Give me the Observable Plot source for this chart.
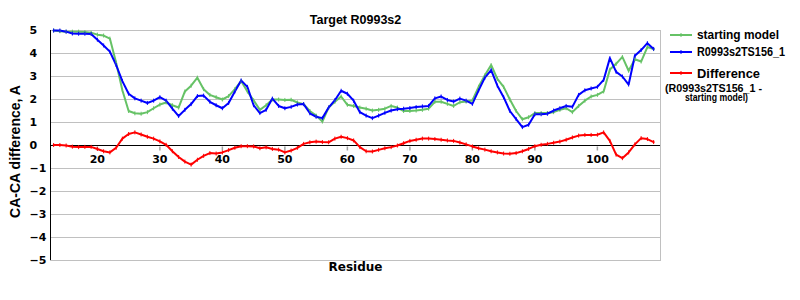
<!DOCTYPE html>
<html><head><meta charset="utf-8">
<script src="https://cdn.jsdelivr.net/npm/d3@7"></script>
<script src="https://cdn.jsdelivr.net/npm/@observablehq/plot@0.6"></script>
<style>
body{margin:0;background:#fff;}
#wrap{position:relative;width:800px;height:300px;overflow:hidden;}
#legend{position:absolute;left:660px;top:20px;}
</style></head><body><div id="wrap"></div>
<script>
const firstResidue = 13;
const startingModel = [5.0,4.97,4.95,4.95,4.95,4.93,4.9,4.82,4.78,4.65,3.6,2.4,1.5,1.4,1.38,1.45,1.62,1.78,1.87,1.75,1.65,2.35,2.6,2.95,2.45,2.2,2.1,2.0,2.15,2.45,2.8,2.35,1.96,1.55,1.75,2.0,2.0,1.98,1.99,1.87,1.8,1.5,1.3,1.04,1.65,1.9,2.13,1.77,1.72,1.65,1.6,1.52,1.55,1.6,1.72,1.65,1.5,1.5,1.52,1.55,1.6,1.9,1.9,1.81,1.72,1.88,1.91,1.96,2.55,3.05,3.5,2.9,2.55,2.0,1.5,1.14,1.23,1.41,1.41,1.41,1.45,1.55,1.62,1.45,1.72,1.95,2.13,2.2,2.35,3.3,3.55,3.85,3.25,3.75,3.65,4.28,4.19];
const model = [5.0,5.0,4.95,4.87,4.86,4.86,4.85,4.6,4.35,4.08,3.5,2.8,2.25,2.05,1.95,1.85,1.95,2.1,1.95,1.6,1.28,1.55,1.8,2.15,2.17,1.9,1.75,1.62,1.85,2.35,2.83,2.55,1.75,1.41,1.55,2.04,1.72,1.62,1.68,1.78,1.8,1.4,1.25,1.19,1.65,1.97,2.38,2.25,1.95,1.45,1.3,1.19,1.3,1.42,1.52,1.58,1.6,1.63,1.67,1.7,1.72,2.05,2.13,1.98,1.91,2.04,1.95,1.81,2.4,2.95,3.28,2.6,2.1,1.5,1.15,0.8,0.9,1.36,1.36,1.38,1.52,1.62,1.72,1.68,2.2,2.4,2.48,2.55,2.85,3.8,3.2,3.0,2.65,3.9,4.15,4.45,4.2];
const difference = [0.02,0.02,0.0,-0.05,-0.07,-0.06,-0.06,-0.15,-0.25,-0.3,-0.1,0.3,0.5,0.57,0.48,0.38,0.3,0.18,0.03,-0.25,-0.5,-0.7,-0.83,-0.62,-0.45,-0.33,-0.35,-0.3,-0.2,-0.1,-0.03,-0.03,-0.04,-0.12,-0.08,-0.15,-0.18,-0.3,-0.22,-0.1,0.07,0.14,0.17,0.15,0.14,0.3,0.38,0.32,0.22,-0.07,-0.25,-0.26,-0.19,-0.12,-0.07,0.0,0.1,0.2,0.25,0.3,0.3,0.28,0.25,0.22,0.2,0.13,0.05,-0.04,-0.12,-0.18,-0.25,-0.3,-0.35,-0.36,-0.33,-0.25,-0.15,-0.03,0.03,0.07,0.12,0.17,0.25,0.35,0.43,0.46,0.46,0.47,0.57,0.2,-0.4,-0.55,-0.3,0.05,0.32,0.28,0.15];
const seriesNames = ["starting model", "R0993s2TS156_1", "Difference"];
const seriesColors = ["#66c266", "#0000ff", "#ff0000"];
const xTicks = [20,30,40,50,60,70,80,90,100];
const yTicks = [-5,-4,-3,-2,-1,0,1,2,3,4,5];
const xDomain = [12.5, 110.1];
const yDomain = [-5, 5];

const seriesValues = [startingModel, model, difference];
const rows = [];
seriesValues.forEach((vals, s) => vals.forEach((v, i) => rows.push({residue: firstResidue + i, value: v, series: seriesNames[s]})));

const vTick = {draw(ctx){ ctx.moveTo(0,-2); ctx.lineTo(0,2); }};
const downTick = {draw(ctx){ ctx.moveTo(0,1); ctx.lineTo(0,5); }};
const colorOf = Object.fromEntries(seriesNames.map((n,i)=>[n, seriesColors[i]]));

const chart = Plot.plot({
  width: 800, height: 300,
  marginLeft: 50, marginRight: 140, marginTop: 30, marginBottom: 40,
  x: {domain: xDomain, axis: null},
  y: {domain: yDomain, axis: null},
  style: {fontFamily: "'DejaVu Sans', Verdana, sans-serif", background: "#fff"},
  marks: [
    Plot.gridY(yTicks, {stroke: "#c0c0c0", strokeOpacity: 1}),
    Plot.frame({stroke: "#c0c0c0"}),
    Plot.ruleX([xDomain[0]], {stroke: "#000"}),
    Plot.ruleY([0], {stroke: "#000"}),
    Plot.dot(xTicks, {x: d => d, y: 0, symbol: downTick, stroke: "#a0a0a0", fill: "none", r: 3}),
    Plot.text(xTicks, {x: d => d, y: 0, dy: 14, text: d => String(d), fontWeight: "bold", fontSize: 11}),
    Plot.text(yTicks, {frameAnchor: "left", y: d => d, dx: -21, textAnchor: "start", text: d => d < 0 ? "\u2212" + (-d) : String(d), fontWeight: "bold", fontSize: 11}),
    ...seriesNames.map(n => Plot.line(rows.filter(r => r.series === n), {x: "residue", y: "value", stroke: colorOf[n], strokeWidth: 2})),
    ...seriesNames.map(n => Plot.dot(rows.filter(r => r.series === n), {x: "residue", y: "value", stroke: colorOf[n], fill: "none", symbol: vTick, strokeWidth: 1})),
    Plot.text(["Target R0993s2"], {frameAnchor: "top", dy: -15, fontFamily: "'Liberation Sans', Arial, sans-serif", fontWeight: "bold", fontSize: 12.5}),
    Plot.text(["Residue"], {frameAnchor: "bottom", dy: 10, fontWeight: "bold", fontSize: 12}),
    Plot.text(["CA-CA difference, A"], {frameAnchor: "left", dx: -35, dy: 6, rotate: -90, textAnchor: "middle", fontFamily: "'Liberation Sans', Arial, sans-serif", fontWeight: "bold", fontSize: 14})
  ]
});
const wrap = document.getElementById("wrap");
wrap.appendChild(chart);

// legend
const ns = "http://www.w3.org/2000/svg";
const leg = document.createElementNS(ns, "svg");
leg.setAttribute("id", "legend");
leg.setAttribute("width", 140); leg.setAttribute("height", 90);
const legY = [15, 32, 53];
const legLen = [82, 88, 63];
seriesNames.forEach((n, i) => {
  const l = document.createElementNS(ns, "line");
  l.setAttribute("x1", 10); l.setAttribute("x2", 32); l.setAttribute("y1", legY[i]); l.setAttribute("y2", legY[i]);
  l.setAttribute("stroke", seriesColors[i]); l.setAttribute("stroke-width", 2);
  leg.appendChild(l);
  const t = document.createElementNS(ns, "line");
  t.setAttribute("x1", 21); t.setAttribute("x2", 21); t.setAttribute("y1", legY[i]-2); t.setAttribute("y2", legY[i]+2);
  t.setAttribute("stroke", seriesColors[i]);
  leg.appendChild(t);
  const tx = document.createElementNS(ns, "text");
  tx.setAttribute("x", 37); tx.setAttribute("y", legY[i]); tx.setAttribute("dy", "0.35em");
  tx.setAttribute("font-family", "'Liberation Sans', Arial, sans-serif");
  tx.setAttribute("font-weight", "bold"); tx.setAttribute("font-size", i === 2 ? 13 : 12);
  tx.setAttribute("textLength", legLen[i]); tx.setAttribute("lengthAdjust", "spacingAndGlyphs");
  tx.textContent = n;
  leg.appendChild(tx);
});
const extra = [["(R0993s2TS156_1 -", 5, 68, 97], ["starting model)", 25, 77.5, 63]];
extra.forEach(([s, x, y, len]) => {
  const tx = document.createElementNS(ns, "text");
  tx.setAttribute("x", x); tx.setAttribute("y", y); tx.setAttribute("dy", "0.35em");
  tx.setAttribute("font-family", "'Liberation Sans', Arial, sans-serif");
  tx.setAttribute("font-weight", "bold"); tx.setAttribute("font-size", 10);
  tx.setAttribute("textLength", len); tx.setAttribute("lengthAdjust", "spacingAndGlyphs");
  tx.textContent = s;
  leg.appendChild(tx);
});
wrap.appendChild(leg);
</script></body></html>
